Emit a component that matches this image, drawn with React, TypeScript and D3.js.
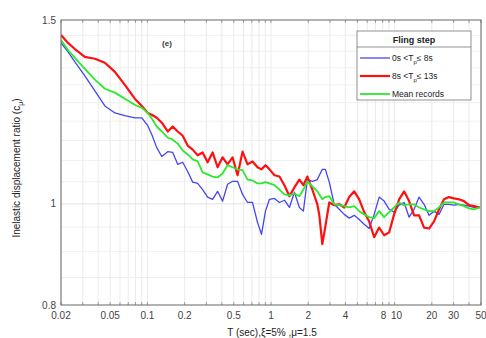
import React from "react";
import * as d3 from "d3";

const periods = [
  0.02, 0.0228, 0.0259, 0.0312, 0.0376, 0.0453, 0.0546, 0.0657, 0.0791, 0.0901,
  0.1007, 0.1085, 0.119, 0.1307, 0.1461, 0.1603, 0.1759, 0.193, 0.2118, 0.2324,
  0.255, 0.2798, 0.3071, 0.337, 0.3698, 0.4058, 0.4453, 0.4887, 0.5363, 0.5885,
  0.6458, 0.7087, 0.7777, 0.8377, 0.9023, 0.9719, 1.0665, 1.1704, 1.2844, 1.4094,
  1.5467, 1.6973, 1.828, 1.969, 2.161, 2.371, 2.461, 2.602, 2.751, 2.961,
  3.249, 3.566, 3.913, 4.294, 4.712, 5.171, 5.675, 6.227, 6.834, 7.499,
  8.23, 9.031, 9.911, 10.876, 11.935, 13.098, 14.373, 15.773, 17.309, 18.995,
  20.845, 22.875, 25.103, 27.548, 30.231, 33.175, 36.406, 39.952, 43.843, 48.97,
];

const blueValues = [
  1.426, 1.398, 1.368, 1.326, 1.283, 1.241, 1.222, 1.215, 1.209, 1.209,
  1.188, 1.165, 1.132, 1.11, 1.122, 1.12, 1.091, 1.096, 1.074, 1.049,
  1.046, 1.032, 1.015, 1.01, 1.028, 1.006, 1.044, 1.051, 1.051, 1.021,
  1.003, 1.003, 0.96, 0.935, 0.984, 1.01, 1.012, 1.003, 1.008, 0.992,
  1.026, 0.992, 0.984, 1.055, 1.051, 1.055, 1.065, 1.079, 1.079, 1.049,
  0.999, 0.988, 0.977, 0.969, 0.975, 0.966, 0.956, 0.947, 0.977, 1.015,
  1.006, 0.988, 0.982, 0.997, 1.003, 0.971, 0.988, 1.015, 0.999, 0.975,
  0.984, 0.977, 0.999, 0.999, 0.997, 0.999, 0.997, 0.995, 0.992, 0.992,
];

const redValues = [
  1.451, 1.426, 1.407, 1.383, 1.377, 1.365, 1.338, 1.3, 1.261, 1.241,
  1.222, 1.217, 1.209, 1.196, 1.173, 1.186, 1.173, 1.162, 1.137, 1.127,
  1.113, 1.12, 1.096, 1.12, 1.084, 1.108, 1.091, 1.108, 1.065, 1.122,
  1.091, 1.098, 1.084, 1.079, 1.089, 1.079, 1.065, 1.062, 1.042, 1.017,
  1.037, 1.055, 1.042, 1.062, 1.032, 0.999, 0.975, 0.915, 0.951, 1.003,
  0.997, 0.999, 0.992, 1.015, 1.028, 1.01, 0.982, 0.962, 0.929, 0.949,
  0.933, 0.939, 0.977, 1.01, 1.028, 1.006, 0.975, 0.975, 0.949, 0.947,
  0.962, 0.988, 1.01, 1.015, 1.012, 1.01, 1.006, 0.997, 0.995, 0.992,
];

const greenValues = [
  1.435, 1.404, 1.38, 1.347, 1.315, 1.289, 1.278, 1.261, 1.244, 1.236,
  1.222, 1.207, 1.186, 1.173, 1.157, 1.152, 1.142, 1.125, 1.115, 1.103,
  1.098, 1.072, 1.067, 1.062, 1.06, 1.069, 1.089, 1.084, 1.079, 1.077,
  1.055, 1.053, 1.046, 1.046, 1.049, 1.046, 1.042, 1.032, 1.021, 1.019,
  1.023, 1.017, 1.032, 1.051, 1.039, 1.028, 1.021, 1.01, 1.015, 1.017,
  0.999, 0.997, 0.995, 0.992, 0.995, 0.984, 0.977, 0.971, 0.969, 0.984,
  0.971, 0.982, 0.992, 1.003, 0.997, 0.999, 0.999, 0.992, 0.988, 0.984,
  0.984, 0.992, 1.003, 1.003, 1.003, 0.999, 0.995, 0.99, 0.988, 0.992,
];

const xTickLabels = ["0.02", "0.05", "0.1", "0.2", "0.5", "1", "2", "4", "8", "10", "20", "30", "50"];
const yTickLabels = ["0.8", "1", "1.5"];
const yGridValues = [0.85, 0.9, 0.95, 1.05, 1.1, 1.15, 1.2, 1.25, 1.3, 1.35, 1.4, 1.45];
const legendLabels = ["0s <T", "8s <T", "Mean records"];

const L = 61, R = 481, T = 20, B = 305;
const FONT = "'Liberation Sans', Arial, sans-serif";

export default function App() {
  const x = d3.scaleLog().domain([0.02, 50]).range([L, R]);
  const y = d3.scaleLog().domain([0.8, 1.5]).range([B, T]);

  const minorX: number[] = [];
  for (const dec of [0.01, 0.1, 1, 10]) {
    for (let k = 1; k <= 9; k++) {
      const v = dec * k;
      if (v >= 0.02 - 1e-9 && v <= 50 + 1e-9) minorX.push(v);
    }
  }

  const line = (vals: number[]) =>
    d3.line<number>()
      .x((_, i) => x(periods[i]))
      .y((d) => y(d))(vals) as string;

  const series = [
    { vals: blueValues, color: "#4646f0", w: 1.3 },
    { vals: redValues, color: "#ff1010", w: 2.2 },
    { vals: greenValues, color: "#2ee82e", w: 1.8 },
  ];

  const lg = { x: 357, y: 31, w: 114, h: 69 };
  const legendColors = ["#4646f0", "#ff1010", "#2ee82e"];
  const legendWidths = [1.3, 2.2, 1.8];

  return (
    <svg width={486} height={338} style={{ position: "absolute", left: 0, top: 0, background: "#fff" }} fontFamily={FONT}>
      <rect x={0} y={0} width={486} height={338} fill="#fff" />
      {minorX.map((v, i) => (
        <line key={"gx" + i} x1={x(v)} x2={x(v)} y1={T} y2={B} stroke="#e6e6e6" strokeWidth={0.8} />
      ))}
      {yGridValues.map((v, i) => (
        <line key={"gy" + i} x1={L} x2={R} y1={y(v)} y2={y(v)} stroke="#ececec" strokeWidth={0.8} />
      ))}
      <line x1={L} x2={R} y1={y(1)} y2={y(1)} stroke="#dcdcdc" strokeWidth={0.8} />
      {minorX.map((v, i) => (
        <g key={"tx" + i}>
          <line x1={x(v)} x2={x(v)} y1={B} y2={B - 3} stroke="#888" strokeWidth={0.8} />
          <line x1={x(v)} x2={x(v)} y1={T} y2={T + 3} stroke="#888" strokeWidth={0.8} />
        </g>
      ))}
      <defs>
        <clipPath id="clip">
          <rect x={L} y={T} width={R - L} height={B - T} />
        </clipPath>
      </defs>
      <g clipPath="url(#clip)">
        {series.map((s, i) => (
          <path key={i} d={line(s.vals)} fill="none" stroke={s.color} strokeWidth={s.w} strokeLinejoin="round" />
        ))}
      </g>
      <rect x={L} y={T} width={R - L} height={B - T} fill="none" stroke="#666" strokeWidth={1} />
      {xTickLabels.map((t, i) => (
        <text key={"xl" + i} x={x(+t) + (t === "8" ? 1 : t === "10" ? 2 : 0)} y={319} fontSize={10} fill="#444" textAnchor="middle">
          {t}
        </text>
      ))}
      {yTickLabels.map((t, i) => (
        <text key={"yl" + i} x={56} y={y(+t) + 3.5} fontSize={10} fill="#444" textAnchor="end">
          {t}
        </text>
      ))}
      <text x={272} y={336} fontSize={10} fill="#222" textAnchor="middle">
        T (sec),ξ=5% ,μ=1.5
      </text>
      <text transform="translate(20,168) rotate(-90)" fontSize={10} fill="#222" textAnchor="middle">
        Inelastic displacement ratio (c<tspan fontSize={7} dy={3}>μ</tspan><tspan dy={-3}>)</tspan>
      </text>
      <text x={167} y={46} fontSize={8} fontWeight="bold" fill="#333" textAnchor="middle">(e)</text>
      <rect x={lg.x} y={lg.y} width={lg.w} height={lg.h} fill="#fff" stroke="#777" strokeWidth={0.8} />
      <line x1={lg.x} x2={lg.x + lg.w} y1={47} y2={47} stroke="#777" strokeWidth={0.8} />
      <text x={lg.x + lg.w / 2} y={43} fontSize={9} fontWeight="bold" fill="#222" textAnchor="middle">Fling step</text>
      {legendLabels.map((lab, i) => {
        const ly = 58 + i * 18;
        return (
          <g key={"lg" + i}>
            <line x1={360} x2={390} y1={ly} y2={ly} stroke={legendColors[i]} strokeWidth={legendWidths[i]} />
            <text x={392} y={ly + 3} fontSize={8.5} fill="#222">
              {i < 2 ? (
                <>
                  {lab}
                  <tspan fontSize={6} dy={2.5}>p</tspan>
                  <tspan dy={-2.5}>{i === 0 ? "≤ 8s" : "≤ 13s"}</tspan>
                </>
              ) : (
                lab
              )}
            </text>
          </g>
        );
      })}
    </svg>
  );
}
